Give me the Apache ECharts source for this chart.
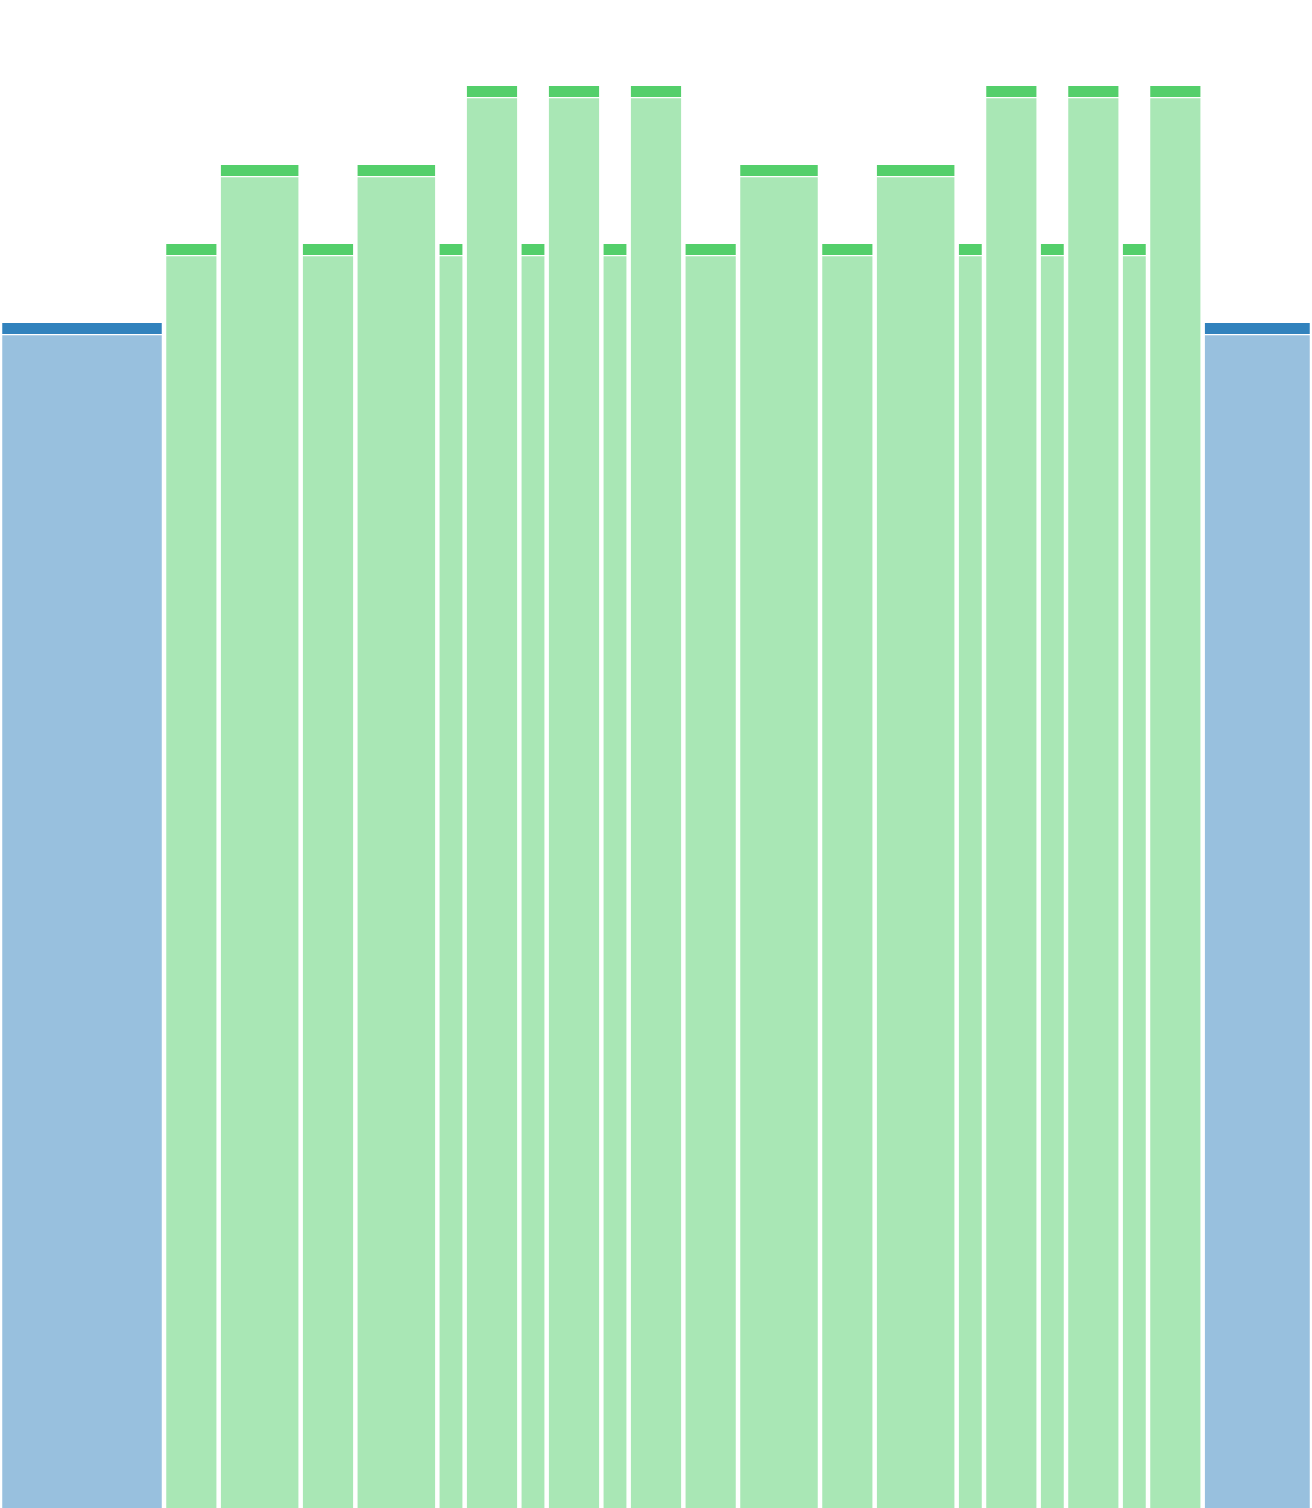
<!DOCTYPE html>
<html>
<head>
<meta charset="utf-8">
<script src="https://cdn.jsdelivr.net/npm/echarts@6/dist/echarts.min.js"></script>
<style>
html, body { margin: 0; padding: 0; background: #fff; }
#chart { width: 1312px; height: 1508px; }
</style>
</head>
<body>
<div id="chart"></div>
<script>
// column widths (in units) and heights, left to right
var widths  = [6, 2, 3, 2, 3, 1, 2, 1, 2, 1, 2, 2, 3, 2, 3, 1, 2, 1, 2, 1, 2, 4];
var heights = [15, 16, 17, 16, 17, 16, 18, 16, 18, 16, 18, 16, 17, 16, 17, 16, 18, 16, 18, 16, 18, 15];
var groups  = ['edge', 'mid', 'mid', 'mid', 'mid', 'mid', 'mid', 'mid', 'mid', 'mid', 'mid',
               'mid', 'mid', 'mid', 'mid', 'mid', 'mid', 'mid', 'mid', 'mid', 'mid', 'edge'];
var groupColors = { edge: '#3182bd', mid: '#54cf6b' };

var total = 0;
var rows = widths.map(function (w, i) {
    var row = [total, total + w, heights[i], i];
    total += w;
    return row;
});

var chart = echarts.init(document.getElementById('chart'));

function renderCol(params, api) {
    var x0 = api.value(0), x1 = api.value(1), h = api.value(2);
    var idx = api.value(3);
    var p0 = api.coord([x0, 0]);
    var p1 = api.coord([x1, h]);
    var gap = 2.25;
    var left = p0[0] + gap, right = p1[0] - gap;
    var top = p1[1], bottom = p0[1];
    var capH = 11;
    var color = groupColors[groups[idx]];
    return {
        type: 'group',
        children: [{
            type: 'rect',
            shape: { x: left, y: top, width: right - left, height: capH },
            style: { fill: color }
        }, {
            type: 'rect',
            shape: { x: left, y: top + capH + 1.2, width: right - left, height: bottom - top - capH - 1.2 },
            style: { fill: color, opacity: 0.5 }
        }]
    };
}

chart.setOption({
    animation: false,
    grid: { left: 0, right: 0, top: 7, bottom: 0 },
    xAxis: { type: 'value', min: 0, max: total, show: false },
    yAxis: { type: 'value', min: 0, max: 19, show: false },
    series: [{
        type: 'custom',
        renderItem: renderCol,
        encode: { x: [0, 1], y: 2 },
        data: rows
    }]
});
</script>
</body>
</html>
